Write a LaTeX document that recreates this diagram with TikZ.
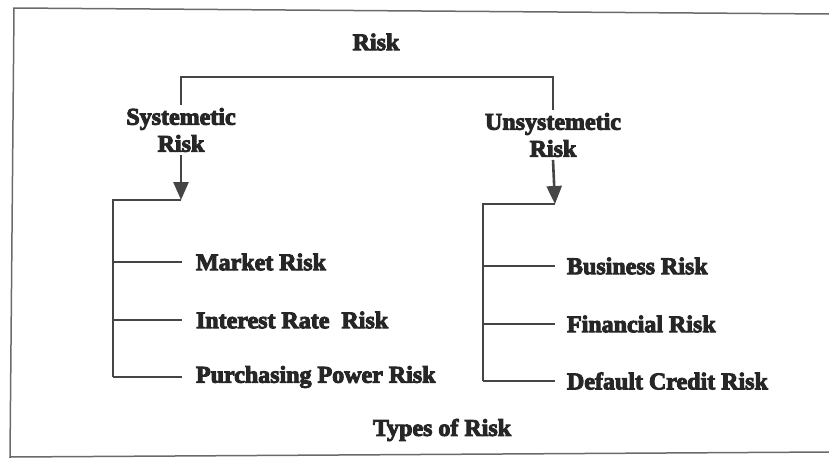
\documentclass[tikz,border=0pt]{standalone}
\usepackage{fontspec}
\newfontfamily\heavy{Liberation Serif}[FakeBold=4]
\usetikzlibrary{arrows.meta}
\definecolor{ink}{HTML}{262626}
\definecolor{wire}{HTML}{454545}
\definecolor{edge}{HTML}{6A6A6A}
\tikzset{
  lbl/.style={font=\heavy\bfseries\fontsize{24}{27}\selectfont, text=ink, inner sep=0pt, outer sep=0pt},
  head/.style={lbl, align=center, inner sep=3pt},
  item/.style={lbl, anchor=west},
  wireline/.style={draw=wire, line width=2.6pt},
  down/.style={wireline, -{Triangle[length=18pt,width=15pt]}},
  framing/.style={draw=edge, line width=1.5pt}
}
\begin{document}
\begin{tikzpicture}[x=1pt,y=-1pt]
\useasboundingbox (0,0) rectangle (829,463);
% outer frame (open on the right)
\draw[framing] (829,14) -- (14,8) -- (10,457) -- (829,452);

% headings
\node[lbl] (risk) at (376,42) {Risk};
\node[head] (sys) at (181,130) {Systemetic\\Risk};
\node[head] (unsys) at (553,135) {Unsystemetic\\Risk};
\node[lbl] (types) at (442,430) {Types of Risk};

% left group
\node[item] (mk) at (196,262) {Market Risk};
\node[item] (ir) at (196,320) {Interest Rate\ \ Risk};
\node[item] (pp) at (196,377) {Purchasing Power Risk};
% right group
\node[item] (bu) at (567,266) {Business Risk};
\node[item] (fi) at (567,324) {Financial Risk};
\node[item] (dc) at (567,381) {Default Credit Risk};

% spine positions and arrow ends
\coordinate (ls) at (113,0);
\coordinate (rs) at (483,0);
\coordinate (lj) at (181,200);
\coordinate (rj) at (555,204);
\coordinate (bar) at (0,77);

% top bracket joining the two headings
\draw[wireline] (sys.north) -- (sys.north |- bar) -- (unsys.north |- bar) -- (unsys.north);

% arrows down to the lists
\draw[down] (sys.south) -- (lj);
\draw[down] (unsys.south) -- (rj);

% left list bracket
\draw[wireline] (lj) -- (ls |- lj) -- (ls |- pp.west);
\foreach \n in {mk,ir,pp} \draw[wireline] (ls |- \n.west) -- ([xshift=-14pt]\n.west);

% right list bracket
\draw[wireline] (rj) -- (rs |- rj) -- (rs |- dc.west);
\foreach \n in {bu,fi,dc} \draw[wireline] (rs |- \n.west) -- ([xshift=-12pt]\n.west);
\end{tikzpicture}
\end{document}
